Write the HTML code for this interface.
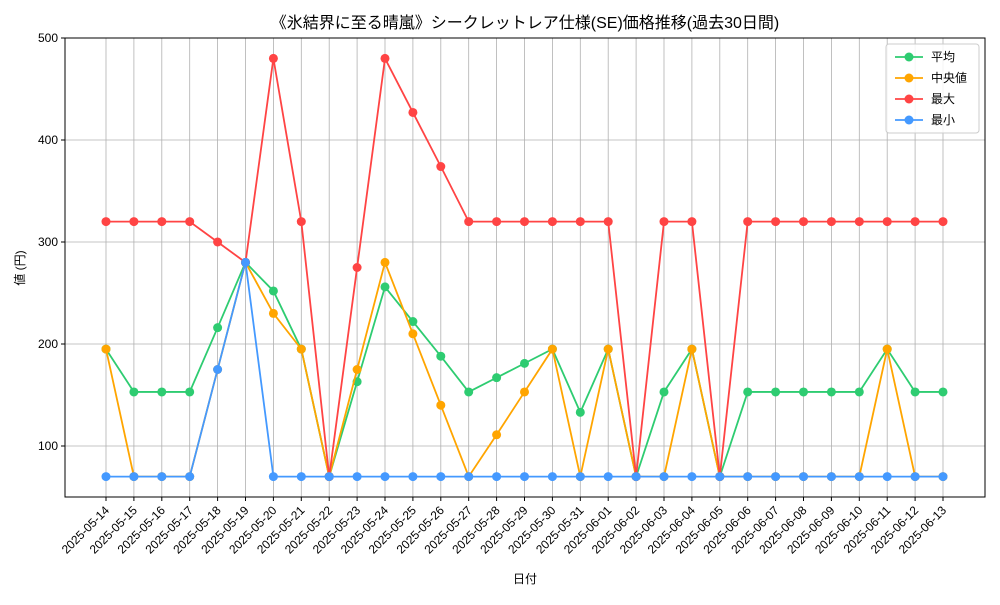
<!DOCTYPE html>
<html><head><meta charset="utf-8"><style>
body{margin:0;background:#fff}
svg text{font-family:"Liberation Sans","Noto Sans CJK JP",sans-serif;fill:#000}
</style></head><body>
<svg id="chart" width="1000" height="600" xmlns="http://www.w3.org/2000/svg">
<rect width="1000" height="600" fill="#fff"/>
<text x="525" y="28" text-anchor="middle" font-size="16">《氷結界に至る晴嵐》シークレットレア仕様(SE)価格推移(過去30日間)</text>
<g id="grid"></g><g id="series"></g><g id="axes"></g>
<text x="525" y="583" text-anchor="middle" font-size="12">日付</text>
<text transform="translate(24,268) rotate(-90)" text-anchor="middle" font-size="12">値 (円)</text>
<g id="legend"></g>
</svg>
<script>
const dates=["2025-05-14","2025-05-15","2025-05-16","2025-05-17","2025-05-18","2025-05-19","2025-05-20","2025-05-21","2025-05-22","2025-05-23","2025-05-24","2025-05-25","2025-05-26","2025-05-27","2025-05-28","2025-05-29","2025-05-30","2025-05-31","2025-06-01","2025-06-02","2025-06-03","2025-06-04","2025-06-05","2025-06-06","2025-06-07","2025-06-08","2025-06-09","2025-06-10","2025-06-11","2025-06-12","2025-06-13"];
const avgValues=[195,153,153,153,216,280,252,195,70,163,256,222,188,153,167,181,195,133,195,70,153,195,70,153,153,153,153,153,195,153,153];
const medianValues=[195,70,70,70,175,280,230,195,70,175,280,210,140,70,111,153,195,70,195,70,70,195,70,70,70,70,70,70,195,70,70];
const maxValues=[320,320,320,320,300,280,480,320,70,275,480,427,374,320,320,320,320,320,320,70,320,320,70,320,320,320,320,320,320,320,320];
const minValues=[70,70,70,70,175,280,70,70,70,70,70,70,70,70,70,70,70,70,70,70,70,70,70,70,70,70,70,70,70,70,70];
const yTicks=[100,200,300,400,500];
const seriesNames=["平均"," 中央値","最大","最小"];
const colors=["#2ecc71","#ffa500","#ff4444","#4499ff"];
const L=65,R=985,T=38,B=497,yMin=50,yMax=500;
const x=i=>106+i*(943-106)/(dates.length-1);
const y=v=>B-(v-yMin)/(yMax-yMin)*(B-T);
const NS="http://www.w3.org/2000/svg";
function mk(p,t,a){const e=document.createElementNS(NS,t);for(const k in a)e.setAttribute(k,a[k]);p.appendChild(e);return e;}
const grid=document.getElementById('grid'),axes=document.getElementById('axes'),ser=document.getElementById('series'),leg=document.getElementById('legend');
dates.forEach((d,i)=>{
 const g=mk(grid,'line',{x1:x(i),x2:x(i),y1:T,y2:B,stroke:'#b0b0b0','stroke-width':0.8});
 
 
 mk(axes,'line',{x1:x(i),x2:x(i),y1:B,y2:B+4,stroke:'#000'});
 const t=mk(axes,'text',{x:x(i)+4,y:B+14,'font-size':12,'text-anchor':'end',transform:`rotate(-45 ${x(i)+4} ${B+14})`});
 t.textContent=d;
 
 
});
yTicks.forEach(v=>{
 const g=mk(grid,'line',{x1:L,x2:R,y1:y(v),y2:y(v),stroke:'#b0b0b0','stroke-width':0.8});
 
 
 mk(axes,'line',{x1:L-4,x2:L,y1:y(v),y2:y(v),stroke:'#000'});
 const t=mk(axes,'text',{x:L-7,y:y(v)+4,'font-size':12,'text-anchor':'end'});
 t.textContent=v;
 
 
});
const frame=mk(axes,'rect',{x:L,y:T,width:R-L,height:B-T,fill:'none',stroke:'#000','stroke-width':1});


const all=[avgValues,medianValues,maxValues,minValues];
const keys=['average','median','max','min'];
all.forEach((vals,s)=>{
 const pl=mk(ser,'polyline',{points:vals.map((v,i)=>x(i)+','+y(v)).join(' '),fill:'none',stroke:colors[s],'stroke-width':1.8});
 
 
 vals.forEach((v,i)=>{
  const c=mk(ser,'circle',{cx:x(i),cy:y(v),r:4.5,fill:colors[s]});
  
  
 });
});
const lb=mk(leg,'rect',{x:886,y:44,width:93,height:89,rx:3,fill:'#fff','fill-opacity':0.85,stroke:'#ccc'});


seriesNames.forEach((n,s)=>{
 const yy=57+s*21;
 mk(leg,'line',{x1:895,x2:923,y1:yy,y2:yy,stroke:colors[s],'stroke-width':1.8});
 mk(leg,'circle',{cx:909,cy:yy,r:4.5,fill:colors[s]});
 const t=mk(leg,'text',{x:931,y:yy+4,'font-size':12,'xml:space':'preserve'});
 t.textContent=n;
 
 
});
</script>
</body></html>
